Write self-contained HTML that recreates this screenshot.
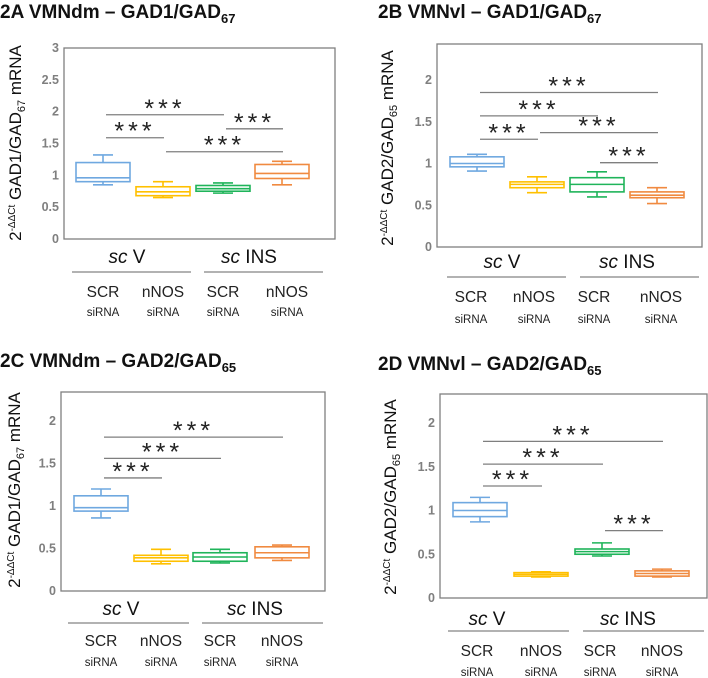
<!DOCTYPE html>
<html><head><meta charset="utf-8"><style>
html,body{margin:0;padding:0;background:#fff;}
svg{display:block;font-family:"Liberation Sans",sans-serif;}
</style></head><body>
<svg id="fig" width="708" height="678" viewBox="0 0 708 678" xmlns="http://www.w3.org/2000/svg"></svg>
<script>
// ---- Data ----
const groups = ["SCR siRNA / sc V","nNOS siRNA / sc V","SCR siRNA / sc INS","nNOS siRNA / sc INS"];
const colors = ["#6fa8e0","#ffc000","#1fb45a","#f08a40"];
// Panel A
const aLo=[0.85,0.65,0.72,0.85], aQ1=[0.90,0.68,0.75,0.95], aMed=[0.96,0.74,0.79,1.03], aQ3=[1.20,0.82,0.84,1.17], aHi=[1.32,0.90,0.88,1.22];
const aSigFrom=[0,0,1,2], aSigTo=[2,1,3,3], aSigY=[1.95,1.59,1.37,1.73];
const aTicks=[0,0.5,1,1.5,2,2.5,3];
// Panel B
const bLo=[0.91,0.65,0.60,0.52], bQ1=[0.96,0.71,0.66,0.59], bMed=[1.00,0.75,0.75,0.62], bQ3=[1.08,0.78,0.83,0.66], bHi=[1.11,0.84,0.90,0.71];
const bSigFrom=[0,0,0,1,2], bSigTo=[3,2,1,3,3], bSigY=[1.85,1.57,1.29,1.37,1.01];
const bTicks=[0,0.5,1,1.5,2];
// Panel C
const cLo=[0.86,0.32,0.33,0.36], cQ1=[0.94,0.35,0.35,0.39], cMed=[0.98,0.39,0.40,0.45], cQ3=[1.12,0.42,0.45,0.52], cHi=[1.20,0.49,0.49,0.54];
const cSigFrom=[0,0,0], cSigTo=[3,2,1], cSigY=[1.81,1.56,1.33];
const cTicks=[0,0.5,1,1.5,2];
// Panel D
const dLo=[0.87,0.24,0.48,0.24], dQ1=[0.93,0.25,0.50,0.25], dMed=[1.00,0.27,0.53,0.28], dQ3=[1.09,0.29,0.56,0.31], dHi=[1.15,0.30,0.63,0.33];
const dSigFrom=[0,0,0,2], dSigTo=[3,2,1,3], dSigY=[1.79,1.53,1.28,0.77];
const dTicks=[0,0.5,1,1.5,2];

const NS="http://www.w3.org/2000/svg";
const svg=document.getElementById('fig');
function mk(tag,attrs,parent,text){const e=document.createElementNS(NS,tag);for(const k in attrs)e.setAttribute(k,attrs[k]);if(text!==undefined)e.textContent=text;(parent||svg).appendChild(e);return e;}

function panel(id,cfg,lo,q1,med,q3,hi,sf,st,sy,ticks){
  const g=mk('g',{});
  
  
  const y=v=>cfg.bottom-v*cfg.ppu;
  const x=i=>cfg.cx[i];
  const t=mk('text',{x:cfg.tx,y:cfg.ty,'font-size':19,'font-weight':'bold',fill:'#111'},g);
  
  
  mk('tspan',{},t,cfg.title[0]);
  mk('tspan',{'font-size':13,dy:5},t,cfg.title[1]);
  const fr=mk('rect',{x:cfg.left,y:cfg.top,width:cfg.right-cfg.left,height:cfg.bottom-cfg.top,fill:'none',stroke:'#7f7f7f','stroke-width':1.3},g);
  
  
  ticks.forEach(v=>{
    const tl=mk('text',{x:cfg.left-5,y:y(v)+4,'text-anchor':'end','font-size':12.5,'font-weight':'bold',fill:'#7f7f7f'},g,String(v));
    
    
  });
  const yt=mk('text',{transform:`translate(${cfg.ytx},${cfg.yty}) rotate(-90)`,'text-anchor':'middle','font-size':17,fill:'#111'},g);
  
  
  mk('tspan',{},yt,'2');
  mk('tspan',{'font-size':10,dy:-6},yt,'-ΔΔCt');
  mk('tspan',{dy:6},yt,' '+cfg.ylab[0]);
  mk('tspan',{'font-size':11,dy:4},yt,cfg.ylab[1]);
  mk('tspan',{dy:-4},yt,' mRNA');
  for(let i=0;i<lo.length;i++){
    const c=colors[i],hw=27,cw=10;
    const bg=mk('g',{stroke:c,'stroke-width':1.6,fill:'none'},g);
    
    
    mk('line',{x1:x(i),x2:x(i),y1:y(hi[i]),y2:y(q3[i])},bg);
    mk('line',{x1:x(i),x2:x(i),y1:y(q1[i]),y2:y(lo[i])},bg);
    mk('line',{x1:x(i)-cw,x2:x(i)+cw,y1:y(hi[i]),y2:y(hi[i])},bg);
    mk('line',{x1:x(i)-cw,x2:x(i)+cw,y1:y(lo[i]),y2:y(lo[i])},bg);
    mk('rect',{x:x(i)-hw,y:y(q3[i]),width:2*hw,height:Math.max(1,y(q1[i])-y(q3[i]))},bg);
    mk('line',{x1:x(i)-hw,x2:x(i)+hw,y1:y(med[i]),y2:y(med[i])},bg);
  }
  for(let k=0;k<sf.length;k++){
    const x1=x(sf[k])+3,x2=x(st[k])+1,yy=y(sy[k]);
    const sg=mk('g',{},g);
    
    
    mk('line',{x1:x1,x2:x2,y1:yy,y2:yy,stroke:'#7f7f7f','stroke-width':1.3},sg);
    mk('text',{x:(x1+x2)/2,y:yy+2,'text-anchor':'middle','font-size':25,'letter-spacing':4,fill:'#222'},sg,'***');
  }
  cfg.gl.forEach((gl,j)=>{
    const tt=mk('text',{x:gl.c,y:cfg.gy,'text-anchor':'middle','font-size':19,fill:'#111'},g);
    
    
    mk('tspan',{'font-style':'italic'},tt,'sc');
    mk('tspan',{},tt,j===0?' V':' INS');
    const ln=mk('line',{x1:gl.a,x2:gl.b,y1:cfg.gly,y2:cfg.gly,stroke:'#999','stroke-width':1.5},g);
    
    
  });
  ['SCR','nNOS','SCR','nNOS'].forEach((s,i)=>{
    const c=cfg.lx[i];
    const a=mk('text',{x:c,y:cfg.sy1,'text-anchor':'middle','font-size':15.5,fill:'#222'},g,s);
    
    
    const b=mk('text',{x:c,y:cfg.sy2,'text-anchor':'middle','font-size':11.5,fill:'#222'},g,'siRNA');
    
    
  });
}

panel('2a',{title:['2A  VMNdm – GAD1/GAD','67'],tx:0,ty:18,left:64,right:335,top:48,bottom:239,ppu:63.7,
  cx:[103,163,223,282],ytx:21,yty:143,ylab:['GAD1/GAD','67'],
  gl:[{c:127,a:72,b:191},{c:249,a:204,b:323}],gy:263,gly:272,lx:[103,163,223,287],sy1:297,sy2:316},
  aLo,aQ1,aMed,aQ3,aHi,aSigFrom,aSigTo,aSigY,aTicks);
panel('2b',{title:['2B  VMNvl – GAD1/GAD','67'],tx:378,ty:18,left:437,right:702,top:44,bottom:247,ppu:83.5,
  cx:[477,537,597,657],ytx:393,yty:148,ylab:['GAD2/GAD','65'],
  gl:[{c:502,a:447,b:566},{c:627,a:580,b:699}],gy:268,gly:277,lx:[471,534,594,661],sy1:302,sy2:323},
  bLo,bQ1,bMed,bQ3,bHi,bSigFrom,bSigTo,bSigY,bTicks);
panel('2c',{title:['2C  VMNdm – GAD2/GAD','65'],tx:0,ty:367,left:61,right:325,top:392,bottom:591,ppu:85,
  cx:[101,161,220,282],ytx:20,yty:490,ylab:['GAD1/GAD','67'],
  gl:[{c:121,a:68,b:189},{c:255,a:202,b:323}],gy:615,gly:623,lx:[101,161,220,282],sy1:646,sy2:666},
  cLo,cQ1,cMed,cQ3,cHi,cSigFrom,cSigTo,cSigY,cTicks);
panel('2d',{title:['2D  VMNvl – GAD2/GAD','65'],tx:378,ty:370,left:440,right:707,top:394,bottom:598,ppu:87.5,
  cx:[480,541,602,662],ytx:396,yty:497,ylab:['GAD2/GAD','65'],
  gl:[{c:487,a:448,b:569},{c:628,a:583,b:704}],gy:625,gly:631,lx:[477,541,600,662],sy1:656,sy2:676},
  dLo,dQ1,dMed,dQ3,dHi,dSigFrom,dSigTo,dSigY,dTicks);
</script>
</body></html>
